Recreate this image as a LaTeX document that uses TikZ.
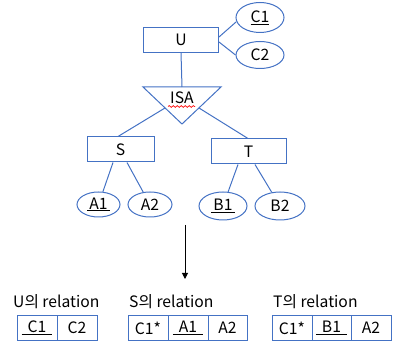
\documentclass[tikz,border=0pt]{standalone}
\usepackage{fontspec}
\setmainfont{Noto Sans CJK KR}
\usetikzlibrary{shapes.geometric,decorations.pathmorphing,arrows.meta}
\definecolor{eblue}{HTML}{4472C4}
\newcommand\ulpad[2]{\underline{\hspace{#1}#2\hspace{#1}}}
\begin{document}
\begin{tikzpicture}[x=1pt,y=-1pt,
  every node/.style={font=\fontsize{15.7}{18}\selectfont, text=black},
  ent/.style={draw=eblue, line width=1pt, rectangle, inner sep=0pt, minimum height=25pt},
  att/.style={draw=eblue, line width=1pt, ellipse, inner sep=0pt},
  link/.style={draw=eblue, line width=1pt},
  cell/.style={draw=eblue, line width=1pt, rectangle, inner sep=0pt, minimum height=24.5pt, minimum width=40pt},
  ttl/.style={anchor=base west, inner sep=0pt}]
\useasboundingbox (0,0) rectangle (400,350);
% entities
\node[ent, minimum width=75pt] (U) at (181,40) {U};
\node[ent, minimum width=67pt] (S) at (120.5,149.5) {S};
\node[ent, minimum width=75pt] (T) at (248.5,151.5) {T};
% attributes
\node[att, minimum width=48pt, minimum height=30pt] (C1) at (260,17.5) {\underline{C1}};
\node[att, minimum width=48pt, minimum height=27pt] (C2) at (260,55) {C2};
\node[att, minimum width=43pt, minimum height=25pt] (A1) at (98.5,204.5) {\ulpad{2pt}{A1}};
\node[att, minimum width=44pt, minimum height=25pt] (A2) at (150,204.5) {A2};
\node[att, minimum width=48pt, minimum height=28pt] (B1) at (223,206) {\ulpad{2pt}{B1}};
\node[att, minimum width=50pt, minimum height=28pt] (B2) at (280,206) {B2};
% ISA triangle
\coordinate (tl) at (143,87);
\coordinate (tr) at (221,87);
\coordinate (ta) at (182,124);
\coordinate (isatop) at (182,87);
\coordinate (isaL) at (165,108);
\coordinate (isaR) at (199,108);
\draw[link, line join=miter] (tl) -- (tr) -- (ta) -- cycle;
\node[inner sep=0pt, anchor=base] (isa) at (182,104) {ISA};
\coordinate (w1) at (168,106.5);
\coordinate (w2) at (195,106.5);
\draw[red, line width=0.7pt, decorate, decoration={snake, amplitude=0.9pt, segment length=4pt}] (w1) -- (w2);
% connectors
\draw[link] ([yshift=3pt]U.east) -- (C1.190);
\draw[link] ([yshift=-2pt]U.east) -- (C2.west);
\draw[link] (U.south) -- (isatop);
\draw[link] (isaL) -- ([xshift=-2.5pt]S.north);
\draw[link] (isaR) -- ([xshift=-0.5pt]T.north);
\draw[link] ([xshift=-7.5pt]S.south) -- (A1);
\draw[link] ([xshift=6.5pt]S.south) -- (A2);
\draw[link] ([xshift=-10.5pt]T.south) -- (B1);
\draw[link] ([xshift=6.5pt]T.south) -- (B2);
% arrow
\coordinate (ar1) at (185,225);
\coordinate (ar2) at (185,279);
\draw[line width=1pt, -{Triangle[length=6pt,width=6pt]}] (ar1) -- (ar2);
% relation titles
\node[ttl] (ut) at (13,307.5) {U의 relation};
\node[ttl] (st) at (129,307.5) {S의 relation};
\node[ttl] (tt) at (273,307.5) {T의 relation};
% tables
\node[cell] (u1) at (37,328) {\ulpad{6pt}{C1}};
\node[cell] (u2) at (77,328) {C2};
\node[cell] (s1) at (148,328) {C1*};
\node[cell] (s2) at (188,328) {\ulpad{6pt}{A1}};
\node[cell, minimum width=39pt] (s3) at (227.5,328) {A2};
\node[cell] (t1) at (292,328) {C1*};
\node[cell, minimum width=39pt] (t2) at (331.5,328) {\ulpad{6pt}{B1}};
\node[cell] (t3) at (371,328) {A2};
\end{tikzpicture}
\end{document}
